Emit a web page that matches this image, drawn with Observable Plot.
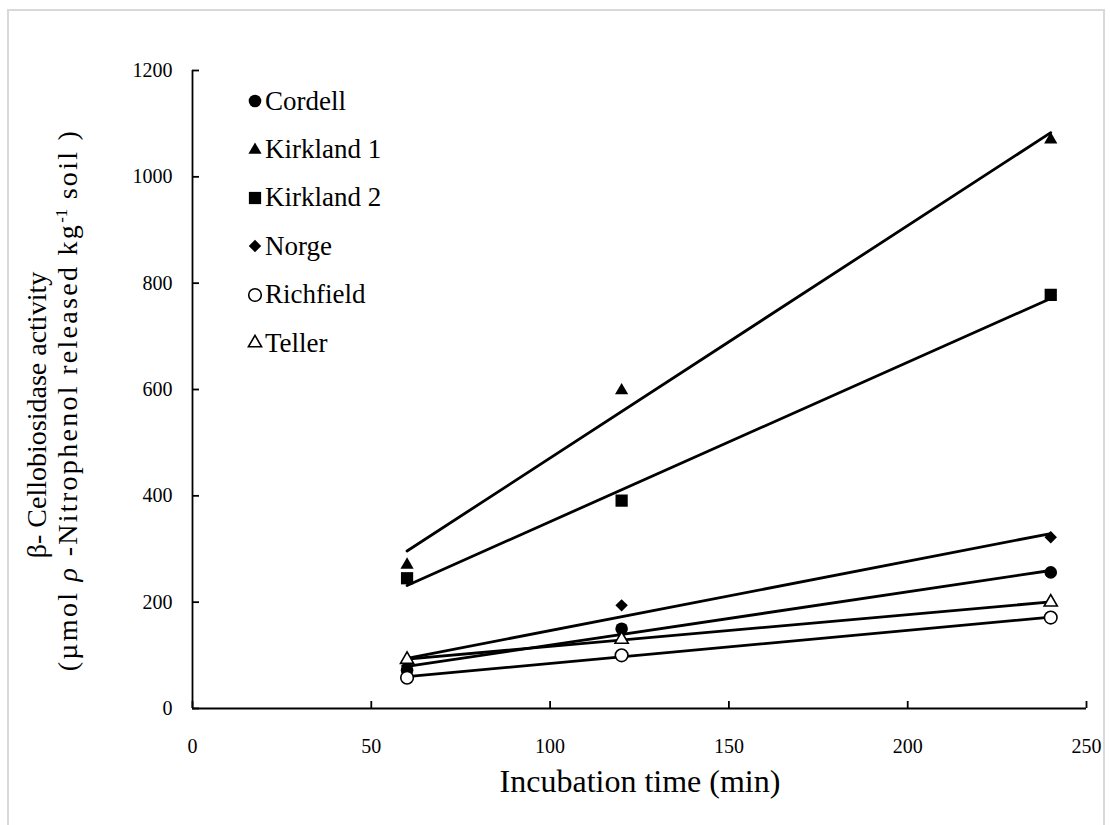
<!DOCTYPE html>
<html><head><meta charset="utf-8">
<script src="https://cdn.jsdelivr.net/npm/d3@7"></script>
<script src="https://cdn.jsdelivr.net/npm/@observablehq/plot@0.6"></script>
<style>
body{margin:0;background:#fff;}
#wrap{position:relative;width:1110px;height:825px;overflow:hidden;font-family:"Liberation Serif","Times New Roman","DejaVu Serif",serif;color:#000;}
#frame{position:absolute;left:7px;top:9px;width:1098px;height:830px;border:2px solid #d9d9d9;box-sizing:border-box;}
#chart{position:absolute;left:0;top:0;}
#chart svg text{font-family:"Liberation Serif","Times New Roman","DejaVu Serif",serif;}
#xtitle{position:absolute;left:640px;top:781px;transform:translate(-50%,-50%);font-size:32px;white-space:nowrap;}
#ytitle{position:absolute;left:54px;top:400px;transform:translate(-50%,-50%) rotate(-90deg);font-size:28px;white-space:nowrap;text-align:center;line-height:31px;}
#ytitle .l1{display:block;margin-right:30px;}
#ytitle .l2{display:block;letter-spacing:2.3px;}
#ytitle sup{font-size:17px;vertical-align:0;position:relative;top:-10px;letter-spacing:0;}
#legend{position:absolute;left:246px;top:77px;font-size:27px;}
.row{display:flex;align-items:center;height:48.4px;}
.row svg{width:18px;height:18px;margin-right:1px;}
</style></head>
<body>
<div id="wrap">
  <div id="frame"></div>
  <div id="chart"></div>
  <div id="xtitle">Incubation time (min)</div>
  <div id="ytitle"><span class="l1">β- Cellobiosidase activity</span><span class="l2">(µmol <i>ρ</i> -Nitrophenol released kg<sup>-1</sup> soil )</span></div>
  <div id="legend"></div>
</div>
<script>
const times = [60, 120, 240];
const seriesNames = ["Cordell", "Kirkland 1", "Kirkland 2", "Norge", "Richfield", "Teller"];
const cordell = [72, 150, 256];
const kirkland1 = [270, 598, 1070];
const kirkland2 = [245, 391, 778];
const norge = [80, 194, 322];
const richfield = [58, 100, 171];
const teller = [92, 130, 200];
const xTicks = [0, 50, 100, 150, 200, 250];
const yTicks = [0, 200, 400, 600, 800, 1000, 1200];

const seriesValues = [cordell, kirkland1, kirkland2, norge, richfield, teller];
const symbolOf = ["circle", "triangle", "square", "diamond2", "circle", "triangle"];
const filledOf = [true, true, true, true, false, false];
const radius = {circle: 6.3, triangle: 4.9, square: 6.9, diamond2: 5.6};

const rows = seriesNames.flatMap((s, i) => times.map((t, j) => ({series: s, time: t, value: seriesValues[i][j]})));

const serif = "'Liberation Serif','Times New Roman','DejaVu Serif',serif";

const dotMarks = seriesNames.map((s, i) => Plot.dot(rows.filter(d => d.series === s), {
  x: "time", y: "value",
  symbol: () => symbolOf[i],
  r: radius[symbolOf[i]],
  fill: filledOf[i] ? "black" : "white",
  stroke: "black",
  strokeWidth: filledOf[i] ? 0 : 1.6
}));

const chart = Plot.plot({
  width: 1110, height: 825,
  marginLeft: 192, marginRight: 24, marginTop: 70, marginBottom: 117,
  style: {fontFamily: serif, fontSize: "20px", color: "black", background: "transparent"},
  x: {domain: [0, 250], label: null},
  y: {domain: [0, 1200], label: null},
  symbol: {type: "identity"},
  marks: [
    Plot.axisX(xTicks, {tickSize: 7, dy: -7, text: null, strokeWidth: 1.8}),
    Plot.axisX(xTicks, {tickSize: 0, tickPadding: 30, label: null, fontSize: 20, fontFamily: serif, tickFormat: d3.format("d")}),
    Plot.axisY(yTicks, {tickSize: 7, dx: 7, text: null, strokeWidth: 1.8}),
    Plot.axisY(yTicks, {tickSize: 0, tickPadding: 20, label: null, fontSize: 20, fontFamily: serif, tickFormat: d3.format("d")}),
    Plot.ruleY([0], {stroke: "black", strokeWidth: 1.8}),
    Plot.ruleX([0], {stroke: "black", strokeWidth: 1.8}),
    Plot.linearRegressionY(rows, {x: "time", y: "value", z: "series", ci: 0, stroke: "black", strokeWidth: 2.8}),
    ...dotMarks
  ]
});
document.getElementById("chart").appendChild(chart);

// legend
const d3Sym = {circle: d3.symbolCircle, triangle: d3.symbolTriangle, square: d3.symbolSquare, diamond2: d3.symbolDiamond2};
const legend = d3.select("#legend");
seriesNames.forEach((s, i) => {
  const row = legend.append("div").attr("class", "row");
  const svg = row.append("svg").attr("viewBox", "-9 -9 18 18");
  const r = radius[symbolOf[i]];
  svg.append("path")
    .attr("d", d3.symbol(d3Sym[symbolOf[i]], Math.PI * r * r)())
    .attr("fill", filledOf[i] ? "black" : "white")
    .attr("stroke", filledOf[i] ? "none" : "black")
    .attr("stroke-width", 1.6);
  row.append("span").text(s);
});
</script>
</body></html>
